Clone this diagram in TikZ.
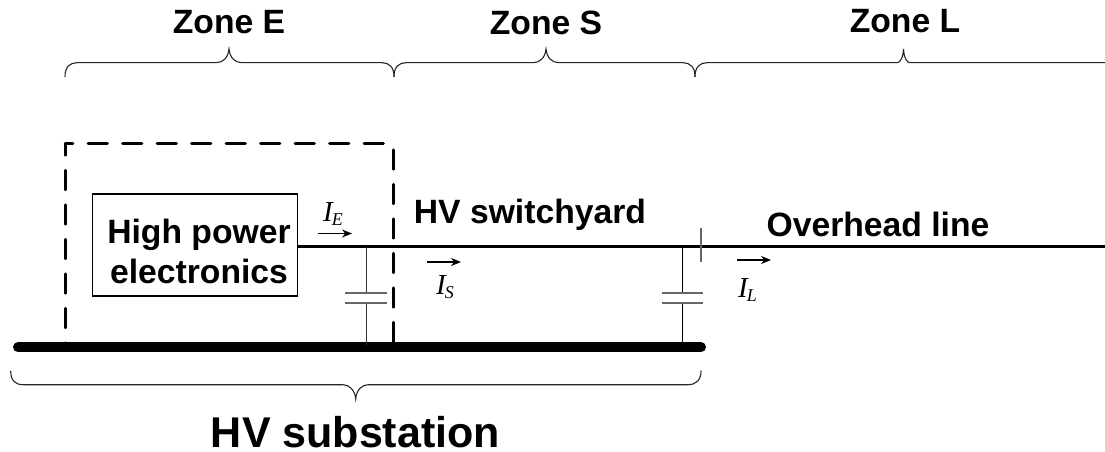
\documentclass[tikz,border=0pt]{standalone}
\usepackage{fontspec}
\setmainfont{Liberation Sans}
\newfontfamily\timesf{Liberation Serif}
\usetikzlibrary{arrows.meta}
\tikzset{
  lab/.style={font=\fontsize{#1}{#1}\selectfont\bfseries,inner sep=0pt,anchor=base},
  cur/.style={font=\fontsize{29}{29}\selectfont\timesf\itshape,inner sep=0pt,anchor=base west},
  thinline/.style={line width=1pt,black!80},
  wire/.style={line width=2.6pt,black},
  bus/.style={line width=10pt,line cap=round,black},
  zonebox/.style={line width=2.8pt,black,line cap=round,dash pattern=on 19.5pt off 15pt},
  flow/.style={line width=1.4pt,-{Stealth[length=10pt,width=8pt]}},
  bracket/.style={line width=1.1pt,black!85,line cap=round},
  plate/.style={line width=1.5pt,black!60},
}
\newcommand{\topbrace}[3]{% left x, tip x, right x
  \draw[bracket] (#1,76.5) .. controls (#1,67) and (#1+5,62.7) .. (#1+12,62.7) -- (#2-13,62.7)
    .. controls (#2-6,62.7) and (#2-1,58) .. (#2,49) .. controls (#2+1,58) and (#2+6,62.7) .. (#2+13,62.7)
    -- (#3-12,62.7) .. controls (#3-5,62.7) and (#3,67) .. (#3,76.5);}
\newcommand{\subs}[1]{\kern-1pt\raisebox{-4pt}{\fontsize{18}{18}\selectfont #1}}
\begin{document}
\begin{tikzpicture}[x=1pt,y=-1pt]
\useasboundingbox (0,0) rectangle (1105,452);
% zone labels
\node[lab=33.7] (ze) at (229,33.5) {Zone E};
\node[lab=33.7] (zs) at (546,35) {Zone S};
\node[lab=33.7] (zl) at (905,33) {Zone L};
% braces
\topbrace{65}{229}{394}
\topbrace{394}{546}{695}
\draw[bracket] (695,76.5) .. controls (695,67) and (700,62.7) .. (707,62.7) -- (897,62.7)
  .. controls (900,62.7) and (903,58) .. (903.5,49) .. controls (904,58) and (907,62.7) .. (910,62.7) -- (1105,62.7);
% box
\node[draw,line width=1.1pt,minimum width=205pt,minimum height=102pt,inner sep=0pt] (hpe) at (195.2,245) {};
\node[lab=33.7] (hp) at (199,243) {High power};
\node[lab=33.7] (el) at (199,283) {electronics};
% dashed zone
\coordinate (dbl) at (65.3,345);
\coordinate (dtl) at (65.3,143.3);
\coordinate (dtr) at (393.5,143.3);
\coordinate (dbr) at (393.5,345);
\draw[zonebox,dash phase=7.5pt] (dtl) -- (dbl);
\draw[zonebox,dash phase=11.8pt] (dtl) -- (dtr);
\draw[zonebox,dash phase=28pt] (dtr) -- (dbr);
% wire and bus
\coordinate (busl) at (18,347.3);
\coordinate (busr) at (701,347.3);
\coordinate (lineend) at (1105,246.7);
\draw[wire] (hpe.east |- lineend) -- (lineend);
\draw[bus] (busl) -- (busr);
% capacitors
\coordinate (c1t) at (366,247);
\coordinate (c1a) at (366,293);
\coordinate (c1b) at (366,303);
\coordinate (c1g) at (366,345);
\draw[thinline] (c1t) -- (c1a) (c1b) -- (c1g);
\draw[plate] (345,293) -- (387,293) (345,303) -- (387,303);
\coordinate (c2t) at (682,247);
\coordinate (c2a) at (682,293);
\coordinate (c2b) at (682,303);
\coordinate (c2g) at (682,345);
\draw[thinline,black] (c2t) -- (c2a) (c2b) -- (c2g);
\draw[plate] (662,293) -- (703,293) (662,303) -- (703,303);
% breaker tick
\coordinate (tk1) at (701,228);
\coordinate (tk2) at (701,262);
\draw[plate] (tk1) -- (tk2);
% currents
\coordinate (ie1) at (318,233.5); \coordinate (ie2) at (352,233.5);
\coordinate (is1) at (427,262); \coordinate (is2) at (461,262);
\coordinate (il1) at (737,260); \coordinate (il2) at (771,260);
\draw[flow] (ie1) -- (ie2);
\draw[flow] (is1) -- (is2);
\draw[flow] (il1) -- (il2);
\node[cur] (ie) at (323,221) {I\subs{E}};
\node[cur] (is) at (436,294) {I\subs{S}};
\node[cur] (il) at (738,297) {I\subs{L}};
% labels
\node[lab=33.7] (hv) at (530,223) {HV switchyard};
\node[lab=33.7] (ol) at (878,236.7) {Overhead line};
% bottom brace
\draw[bracket] (10.7,371) .. controls (10.7,380) and (15,384.7) .. (23,384.7) -- (343,384.7)
  .. controls (349,384.7) and (355,390) .. (355.7,399) .. controls (356.4,390) and (362,384.7) .. (368,384.7)
  -- (688,384.7) .. controls (696,384.7) and (701,380) .. (701,371);
\node[lab=43] (sub) at (355.5,447) {HV substation};
\end{tikzpicture}
\end{document}
